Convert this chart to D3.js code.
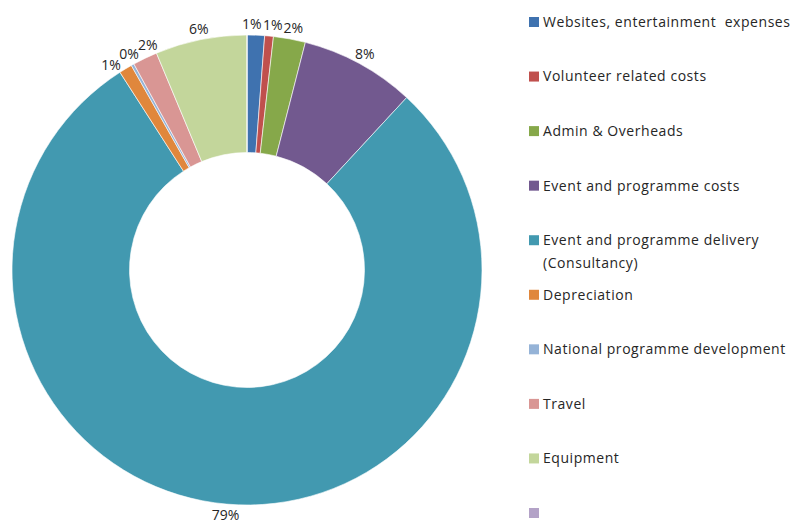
<!DOCTYPE html>
<html lang="en">
<meta charset="utf-8">
<head>
    <script src="https://d3js.org/d3.v7.min.js"></script>
    <style>
        body { margin: 0; background: #fff; }
        text { font-family: "Open Sans", "DejaVu Sans", sans-serif; fill: #262626; white-space: pre; }
    </style>
</head>
<body>
<script>
    // expense categories in legend order (the last one has no name in the source)
    var categories = [
        "Websites, entertainment  expenses",
        "Volunteer related costs",
        "Admin & Overheads",
        "Event and programme costs",
        "Event and programme delivery|(Consultancy)",
        "Depreciation",
        "National programme development",
        "Travel",
        "Equipment",
        ""
    ];
    // share of total, percent
    var values = [1.2, 0.6, 2.2, 7.9, 79.1, 0.9, 0.2, 1.7, 6.3, 0];
    var colors = ["#3F72AF", "#C0504D", "#86A84A", "#72598F", "#4299B0",
                  "#E0873C", "#95B3D7", "#D99694", "#C3D69B", "#B3A2C7"];

    var width = 805, height = 530;
    var cx = 247, cy = 270;
    var outerR = 235, innerR = 117.5;
    var labelR = outerR + 11;
    var minGap = 0.085; // min angle between neighbouring labels (rad)

    var svg = d3.select("body")
        .append("svg")
        .attr("width", width)
        .attr("height", height);

    var data = categories.map(function(c, i) {
        return {name: c, value: values[i], color: colors[i]};
    });

    var pie = d3.pie()
        .sort(null)
        .value(function(d) { return d.value; });

    var arc = d3.arc()
        .innerRadius(innerR)
        .outerRadius(outerR);

    var g = svg.append("g")
        .attr("transform", "translate(" + cx + "," + cy + ")");

    var arcs = pie(data);

    g.selectAll("path")
        .data(arcs)
        .enter()
        .append("path")
        .attr("d", arc)
        .style("fill", function(d) { return d.data.color; })
        .style("stroke", "#fff")
        .style("stroke-width", 0.6);

    // label angles, pushed apart where the slices are thin
    var labels = arcs.filter(function(d) { return d.data.value > 0; })
        .map(function(d) {
            var a = (d.startAngle + d.endAngle) / 2;
            if (a > Math.PI) a -= 2 * Math.PI;
            return {d: d, a: a};
        })
        .sort(function(p, q) { return p.a - q.a; });

    for (var it = 0; it < 50; it++) {
        for (var i = 0; i < labels.length - 1; i++) {
            var diff = labels[i + 1].a - labels[i].a;
            if (diff < minGap) {
                var push = (minGap - diff) / 2;
                labels[i].a -= push;
                labels[i + 1].a += push;
            }
        }
    }

    g.selectAll(".lbl")
        .data(labels)
        .enter()
        .append("text")
        .attr("class", "lbl")
        .attr("x", function(l) { return labelR * Math.sin(l.a); })
        .attr("y", function(l) { return -labelR * Math.cos(l.a); })
        .attr("text-anchor", "middle")
        .attr("dy", "0.35em")
        .style("font-size", "14px")
        .text(function(l) { return Math.round(l.d.data.value) + "%"; });

    // legend
    var ly = d3.scalePoint()
        .domain(d3.range(categories.length))
        .range([22, 513]);

    var legend = svg.append("g")
        .attr("transform", "translate(529,0)");

    var item = legend.selectAll(".item")
        .data(data)
        .enter()
        .append("g")
        .attr("class", "item")
        .attr("transform", function(d, i) { return "translate(0," + ly(i) + ")"; });

    item.append("rect")
        .attr("x", 0)
        .attr("y", -5)
        .attr("width", 10)
        .attr("height", 10)
        .style("fill", function(d) { return d.color; });

    item.append("text")
        .style("font-size", "14px")
        .style("letter-spacing", "0.55px")
        .each(function(d) {
            var lines = d.name.split("|");
            var t = d3.select(this);
            lines.forEach(function(line, k) {
                t.append("tspan")
                    .attr("x", 14)
                    .attr("dy", k == 0 ? "0.35em" : "1.6em")
                    .text(line);
            });
        });
</script>
</body>
</html>
